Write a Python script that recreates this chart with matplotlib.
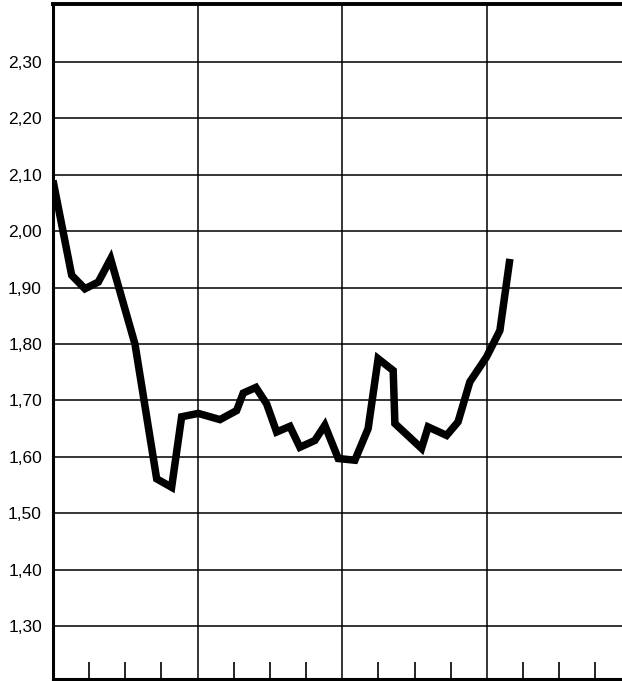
import matplotlib
matplotlib.use("Agg")
import matplotlib.pyplot as plt
import numpy as np

# Data (x in months from left axis, y values)
months = [0.0, 1.55, 2.65, 3.76, 4.78, 6.8, 8.6, 9.84, 10.67, 12.05, 13.85,
          15.23, 15.78, 16.83, 17.72, 18.55, 19.65, 20.48, 21.72, 22.55, 23.66,
          25.04, 26.14, 26.97, 28.22, 28.36, 30.57, 31.12, 32.65, 33.6, 34.58,
          35.96, 37.07, 37.9]
values = [2.09, 1.922, 1.898, 1.91, 1.951, 1.80, 1.561, 1.546, 1.671, 1.677, 1.666,
          1.682, 1.713, 1.723, 1.694, 1.644, 1.654, 1.617, 1.629, 1.656, 1.597,
          1.594, 1.65, 1.774, 1.753, 1.659, 1.615, 1.653, 1.638, 1.662, 1.733,
          1.777, 1.824, 1.951]

y_ticks = [1.30, 1.40, 1.50, 1.60, 1.70, 1.80, 1.90, 2.00, 2.10, 2.20, 2.30]
y_labels = ["1,30", "1,40", "1,50", "1,60", "1,70", "1,80", "1,90", "2,00", "2,10", "2,20", "2,30"]
section_lines = [12, 24, 36]
minor_ticks = [3, 6, 9, 15, 18, 21, 27, 30, 33, 39, 42, 45]

W, H = 622, 681
fig = plt.figure(figsize=(W / 100, H / 100), dpi=100)
ax = fig.add_axes([53 / W, 2 / H, (W - 53) / W, (681 - 4 - 2) / H])
ax.set_xlim(0, 47.2)
ax.set_ylim(1.206, 2.403)

for y in y_ticks:
    ax.axhline(y, color="black", lw=1.1, zorder=1)
for x in section_lines:
    ax.axvline(x, color="black", lw=1.1, zorder=1)

ax.plot(months, values, color="black", lw=5.4, solid_joinstyle="miter",
        solid_capstyle="butt", zorder=3)

ax.set_yticks(y_ticks)
ax.set_yticklabels(y_labels, fontfamily="Liberation Sans", fontsize=12.5)
ax.tick_params(axis="y", length=0, pad=8)

ax.set_xticks(minor_ticks)
ax.set_xticklabels([])
ax.tick_params(axis="x", direction="in", length=12, width=1.2, color="black")

ax.spines["right"].set_visible(False)
ax.spines["left"].set_linewidth(2.2)
ax.spines["bottom"].set_linewidth(2.2)
ax.spines["top"].set_linewidth(2.8)

fig.savefig("out.png", dpi=100)
